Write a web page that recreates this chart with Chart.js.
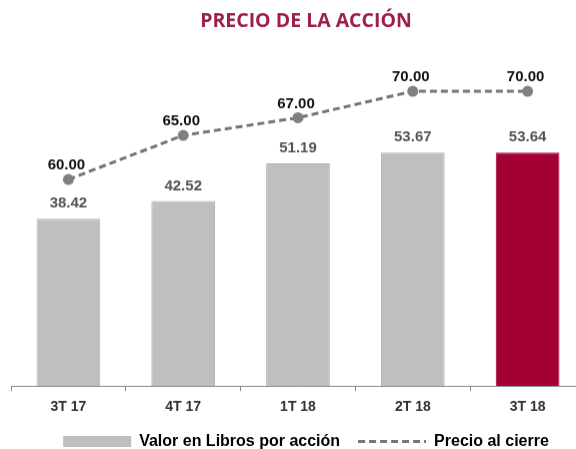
<!DOCTYPE html>
<html>
<head>
<meta charset="utf-8">
<script src="https://cdn.jsdelivr.net/npm/chart.js@4"></script>
<style>
  html, body { margin: 0; padding: 0; background: #fff; overflow: hidden; }
  #wrap { position: relative; width: 612px; height: 458.6px; }
</style>
</head>
<body>
<div id="wrap"><canvas id="chart"></canvas></div>
<script>
// quarters along the bottom axis
const quarters = ['3T 17', '4T 17', '1T 18', '2T 18', '3T 18'];

// book value per share (bars)
const bookValue = [38.42, 42.52, 51.19, 53.67, 53.64];

// closing share price (dashed line)
const closePrice = [60.00, 65.00, 67.00, 70.00, 70.00];

// legend texts
const seriesNames = ['Valor en Libros por acción', 'Precio al cierre'];

const GRAY = '#bfbfbf';
const RED = '#a50034';
const LINE = '#767676';
const FONT = '"Liberation Sans", Arial, sans-serif';

// the latest quarter is highlighted in red
const barColor = (ctx) => ctx.dataIndex === quarters.length - 1 ? RED : GRAY;

/* writes the value above every bar and every point of the line */
const valueLabels = {
    id: 'valueLabels',
    afterDatasetsDraw(chart) {
        const ctx = chart.ctx;
        ctx.save();
        ctx.textAlign = 'center';
        ctx.textBaseline = 'middle';
        ctx.font = `bold 15px ${FONT}`;

        chart.getDatasetMeta(0).data.forEach((bar, i) => {
            ctx.fillStyle = '#555555';
            ctx.fillText(bookValue[i].toFixed(2), bar.x, bar.y - 15);
        });

        chart.getDatasetMeta(1).data.forEach((pt, i) => {
            ctx.fillStyle = '#111111';
            ctx.fillText(closePrice[i].toFixed(2), pt.x - 2, pt.y - 14);
        });

        ctx.restore();
    }
};

new Chart(document.getElementById('chart'), {
    type: 'bar',
    data: {
        labels: quarters,
        datasets: [{
            type: 'bar',
            label: seriesNames[0],
            data: bookValue,
            yAxisID: 'y',
            backgroundColor: barColor,
            borderColor: (ctx) => ctx.dataIndex === quarters.length - 1 ? '#98002f' : '#b0b0b0',
            borderWidth: 1,
            barPercentage: 0.555,
            categoryPercentage: 1
        }, {
            type: 'line',
            label: seriesNames[1],
            data: closePrice,
            yAxisID: 'y1',
            borderColor: LINE,
            borderWidth: 3,
            borderDash: [7, 4],
            pointRadius: 5.5,
            pointBackgroundColor: '#808080',
            pointBorderWidth: 0,
            tension: 0,
            fill: false
        }]
    },
    options: {
        responsive: true,
        maintainAspectRatio: false,
        animation: false,
        layout: { padding: 0 },
        plugins: {
            title: {
                display: true,
                text: 'PRECIO DE LA ACCIÓN',
                color: '#9c1f4c',
                font: { family: '"Open Sans", sans-serif', size: 19.5, weight: 'bold', lineHeight: 1.2 },
                padding: { top: 9.7, bottom: 11.9 }
            },
            legend: {
                position: 'bottom',
                labels: {
                    usePointStyle: true,
                    pointStyleWidth: 68,
                    boxHeight: 11,
                    padding: 18,
                    color: '#000000',
                    font: { family: FONT, size: 16, weight: 'bold' },
                    generateLabels: () => [{
                        text: seriesNames[0],
                        pointStyle: 'rect',
                        fillStyle: GRAY,
                        strokeStyle: GRAY,
                        lineWidth: 0,
                        fontColor: '#000000',
                        hidden: false,
                        datasetIndex: 0
                    }, {
                        text: seriesNames[1],
                        pointStyle: 'line',
                        fillStyle: 'rgba(0,0,0,0)',
                        strokeStyle: LINE,
                        lineWidth: 3,
                        lineDash: [7, 4],
                        fontColor: '#000000',
                        hidden: false,
                        datasetIndex: 1
                    }]
                }
            },
            tooltip: { enabled: false }
        },
        scales: {
            x: {
                grid: { display: true, drawOnChartArea: false, drawTicks: true, tickLength: 5, color: '#888888', offset: true },
                border: { display: true, color: '#888888', width: 1 },
                ticks: { padding: 8, color: '#333333', font: { family: FONT, size: 14, weight: 'bold' } },
                afterFit: (scale) => { scale.height = 29.4; }
            },
            y: {
                position: 'left',
                min: 0,
                max: 78.34,
                grid: { display: false },
                border: { display: false },
                ticks: { display: false },
                afterFit: (scale) => { scale.width = 11; }
            },
            y1: {
                position: 'right',
                min: 36.59,
                max: 75.23,
                grid: { display: false },
                border: { display: false },
                ticks: { display: false },
                afterFit: (scale) => { scale.width = 27; }
            }
        }
    },
    plugins: [valueLabels]
});
</script>
</body>
</html>
